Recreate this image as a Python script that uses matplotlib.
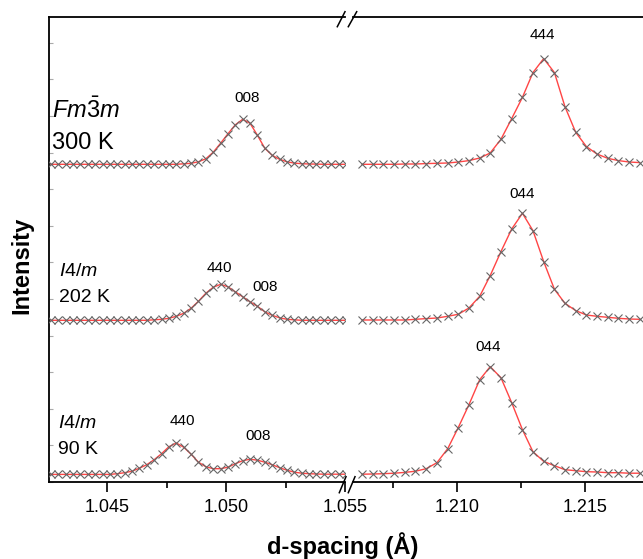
import numpy as np
import matplotlib
matplotlib.use('Agg')
import matplotlib.pyplot as plt
from matplotlib.ticker import MultipleLocator, FormatStrFormatter
from matplotlib.lines import Line2D

plt.rcParams['font.family'] = 'Liberation Sans'
plt.rcParams['mathtext.fontset'] = 'custom'
plt.rcParams['mathtext.rm'] = 'Liberation Sans'
plt.rcParams['mathtext.it'] = 'Liberation Sans:italic'
plt.rcParams['mathtext.bf'] = 'Liberation Sans:bold'

# d-spacing of the measured points (A), low-d window and high-d window
dLow = [1.04264, 1.04295, 1.04326, 1.04357, 1.04388, 1.04419, 1.04450, 1.04481,
        1.04512, 1.04543, 1.04574, 1.04605, 1.04636, 1.04667, 1.04698, 1.04729,
        1.04760, 1.04791, 1.04822, 1.04853, 1.04884, 1.04915, 1.04946, 1.04977,
        1.05008, 1.05039, 1.05070, 1.05101, 1.05132, 1.05163, 1.05194, 1.05225,
        1.05256, 1.05287, 1.05318, 1.05349, 1.05380, 1.05411, 1.05442, 1.05473,
        1.05504]
dHigh = [1.20630, 1.20672, 1.20713, 1.20755, 1.20797, 1.20838, 1.20880, 1.20922,
         1.20964, 1.21005, 1.21047, 1.21089, 1.21130, 1.21172, 1.21214, 1.21256,
         1.21297, 1.21339, 1.21381, 1.21422, 1.21464, 1.21506, 1.21547, 1.21589,
         1.21631, 1.21673, 1.21714]

# intensities (arb. units, above each pattern's baseline)
low300 = [0, 0, 0, 0, 0, 0, 0, 0, 0, 0, 0, 0, 0, 0, 0, 0, 0, 0,
          0.5, 1, 2.5, 5.5, 12, 21, 30.5, 39.5, 45, 41, 29, 16, 9, 5, 2.5, 1.2,
          0.6, 0.3, 0.2, 0, 0, 0, 0]
low202 = [0, 0, 0, 0, 0, 0, 0, 0, 0, 0, 0, 0, 0, 0,
          0.5, 1, 2, 4, 7, 12, 19, 27, 33, 36, 33.5, 28.5, 23.5, 18.5, 14, 8.5,
          5, 2.5, 1, 0.5, 0, 0, 0, 0, 0, 0, 0]
low90 = [0.3, 0.3, 0.3, 0.3, 0.3, 0.3, 0.3, 0.3, 0.3,
         1, 2, 3.5, 6.5, 10, 15, 21, 28, 31.7, 27.5, 20.5, 12.5, 8, 6, 6, 7.5,
         11, 14, 15.5, 14.5, 12.5, 10, 7, 4.5, 2.5, 1.5, 1, 0.7, 0.5, 0.5, 0.5, 0.5]
high300 = [0, 0, 0, 0, 0.3, 0.3, 0.7, 1, 1.3, 2.3, 3.7, 6.3, 11.3, 25, 45.7, 67,
           91.7, 105.7, 91.7, 57.7, 32, 17.7, 10.3, 6, 3.7, 2.3, 1.7]
high202 = [0.3, 0.3, 0.3, 0.3, 0.3, 1, 1.7, 2.3, 4, 6, 12.3, 24, 44.7, 68.7, 91.3,
           107, 89.7, 58.7, 31, 17, 9.7, 5.3, 4, 3, 2, 1.3, 1]
high90 = [0.5, 0.7, 1, 1.5, 2.3, 3.5, 6, 12, 26, 47, 70, 95, 108, 97, 72, 45, 23,
          13.3, 9, 5, 4, 3, 2.7, 2, 2, 1.5, 1.5]

# vertical offsets of the stacked patterns
offsets = [317.7, 161.7, 7.3]
lowSets = [low300, low202, low90]
highSets = [high300, high202, high90]

# annotations
phases = [r'$Fm\bar{\mathrm{3}}m$', r'$I$4/$m$', r'$I$4/$m$']
temps = ['300 K', '202 K', '90 K']
lowLabels = [['008'], ['440', '008'], ['440', '008']]
lowLabelPos = [[(1.05088, 384)], [(1.04971, 214), (1.05164, 195)],
               [(1.04815, 61), (1.05134, 46)]]
highLabels = ['444', '044', '044']
highLabelPos = [(1.21332, 447), (1.21254, 288), (1.21121, 135)]

W, H = 643, 559
fig = plt.figure(figsize=(W/100, H/100), dpi=100)

def fbox(x0, x1, y0, y1):
    return [x0/W, 1 - y1/H, (x1 - x0)/W, (y1 - y0)/H]

ax1 = fig.add_axes(fbox(49, 345, 17, 482))
ax2 = fig.add_axes(fbox(353, 643, 17, 482))

red = '#ff4545'
for i in range(3):
    yl = np.array(lowSets[i]) + offsets[i]
    yh = np.array(highSets[i]) + offsets[i]
    ax1.plot(dLow, yl, '-', color=red, lw=1.0, zorder=2)
    ax1.plot(dLow, yl, 'x', color='#666666', ms=5.5, mew=0.8, zorder=3)
    ax2.plot(dHigh, yh, '-', color=red, lw=1.0, zorder=2)
    ax2.plot(dHigh, yh, 'x', color='#666666', ms=5.5, mew=0.8, zorder=3)

for ax in (ax1, ax2):
    ax.set_ylim(0, 465)
    ax.xaxis.set_major_formatter(FormatStrFormatter('%.3f'))
    ax.xaxis.set_major_locator(MultipleLocator(0.005))
    ax.xaxis.set_minor_locator(MultipleLocator(0.0025))
    ax.tick_params(axis='x', which='major', direction='out', length=7, width=1.2,
                   labelsize=13, pad=5)
    ax.tick_params(axis='x', which='minor', direction='out', length=4, width=1.2)
    ax.spines['right'].set_visible(False)
    for s in ('top', 'bottom', 'left'):
        ax.spines[s].set_linewidth(1.3)

ax1.set_xlim(1.04256, 1.0550)
ax2.set_xlim(1.20594, 1.21727)

ax1.yaxis.set_major_locator(MultipleLocator(36.6))
ax1.tick_params(axis='y', direction='in', length=3, width=0.8, color='#aaaaaa',
                labelleft=False)
ax2.spines['left'].set_visible(False)
ax2.tick_params(axis='y', left=False, labelleft=False)

# phase / temperature labels
phaseY = [372, 211, 59]
tempY = [339, 185, 33]
phaseX = [1.04269, 1.04298, 1.04294]
sizes = [17, 14, 14]
for i in range(3):
    ax1.text(phaseX[i], phaseY[i], phases[i], fontsize=sizes[i], ha='left', va='center')
    ax1.text(phaseX[i], tempY[i], temps[i], fontsize=sizes[i], ha='left', va='center')
    for lab, (x, y) in zip(lowLabels[i], lowLabelPos[i]):
        ax1.text(x, y, lab, fontsize=11, ha='center', va='center')
    ax2.text(highLabelPos[i][0], highLabelPos[i][1], highLabels[i], fontsize=11,
             ha='center', va='center')

# axis break marks
for (xa, ya, xb, yb) in [(339.3, 492.7, 346, 476.7), (348.3, 492.7, 355, 476.7),
                         (337.3, 26.7, 345, 11.7), (348.3, 26.7, 356.7, 11.7)]:
    fig.add_artist(Line2D([xa/W, xb/W], [1 - ya/H, 1 - yb/H], color='black', lw=1.1))

fig.text(343/W, 1 - 546/H, 'd-spacing (Å)', fontsize=17, fontweight='bold',
         ha='center', va='center')
fig.text(22/W, 1 - 265/H, 'Intensity', fontsize=17, fontweight='bold',
         rotation=90, ha='center', va='center')

fig.savefig('out.png', dpi=100)
